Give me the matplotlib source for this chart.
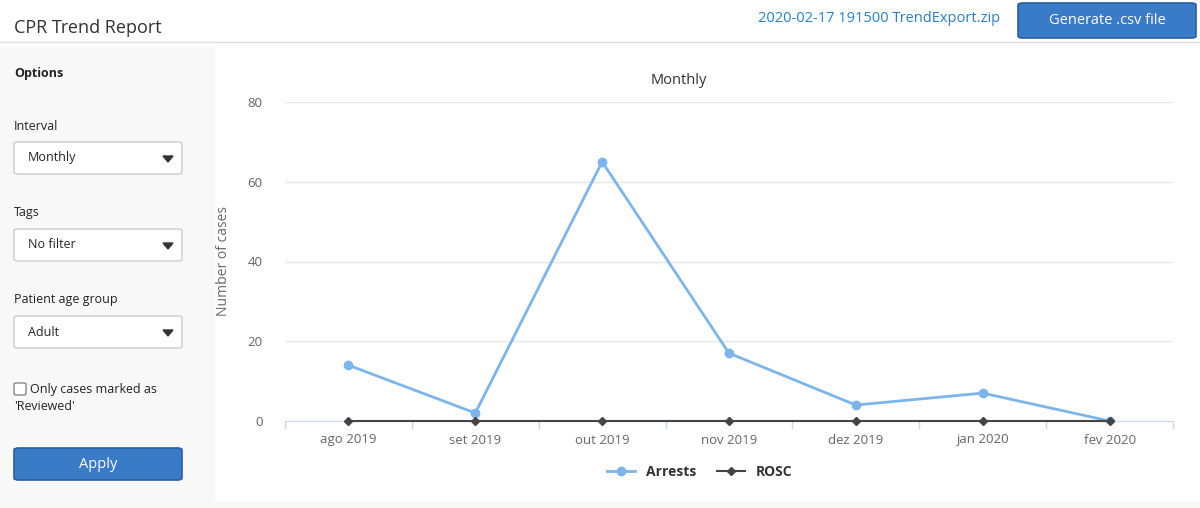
import matplotlib
matplotlib.use("Agg")
import matplotlib.pyplot as plt
from matplotlib.patches import FancyBboxPatch, Rectangle, Polygon
from matplotlib.lines import Line2D

categories = ["ago 2019", "set 2019", "out 2019", "nov 2019", "dez 2019", "jan 2020", "fev 2020"]
arrests = [14, 2, 65, 17, 4, 7, 0]
rosc = [0, 0, 0, 0, 0, 0, 0]
yticks = [0, 20, 40, 60, 80]

W, H = 1200, 508
plt.rcParams["font.family"] = "Open Sans"
fig = plt.figure(figsize=(12, 5.08), dpi=100, facecolor="#f8f8f8")
def fx(x): return x / W
def fy(y): return 1 - y / H

# backgrounds
fig.patches.append(Rectangle((0, fy(45)), 1, fy(0) - fy(45), transform=fig.transFigure, color="white", zorder=0))
fig.patches.append(Rectangle((fx(215), fy(500)), fx(1200 - 215), fy(45) - fy(500), transform=fig.transFigure, color="white", zorder=0))
fig.lines.append(Line2D([0, 1], [fy(42), fy(42)], transform=fig.transFigure, color="#dddddd", lw=1))

fig.text(fx(14), fy(28), "CPR Trend Report", fontsize=13, color="#333333", va="center")
fig.text(fx(1000), fy(19), "2020-02-17 191500 TrendExport.zip", fontsize=10.5, color="#2a7fc9", va="center", ha="right")

def button(x0, y0, x1, y1, label, fs=10.5):
    fig.patches.append(FancyBboxPatch((fx(x0), fy(y1)), fx(x1 - x0), fy(y0) - fy(y1),
                                      boxstyle="round,pad=0,rounding_size=0.004", transform=fig.transFigure,
                                      facecolor="#3a7bc8", edgecolor="#2a5f9e", lw=1.2, zorder=2))
    fig.text(fx((x0 + x1) / 2), fy((y0 + y1) / 2), label, color="white", fontsize=fs, ha="center", va="center", zorder=3)

button(1018, 3, 1196, 38, "Generate .csv file")
button(14, 448, 182, 480, "Apply")

fig.text(fx(14), fy(74), "Options", fontsize=9, fontweight="bold", color="#222222", va="center")

def dropdown(label, ly, val, by):
    fig.text(fx(14), fy(ly), label, fontsize=9, color="#222222", va="center")
    fig.patches.append(FancyBboxPatch((fx(14), fy(by + 32)), fx(168), fy(by) - fy(by + 32),
                                      boxstyle="round,pad=0,rounding_size=0.003", transform=fig.transFigure,
                                      facecolor="white", edgecolor="#cccccc", lw=1, zorder=2))
    fig.text(fx(28), fy(by + 16), val, fontsize=9, color="#222222", va="center", zorder=3)
    cy = by + 17
    fig.patches.append(Polygon([(fx(163), fy(cy - 3)), (fx(173), fy(cy - 3)), (fx(168), fy(cy + 3))],
                               transform=fig.transFigure, color="#333333", zorder=3))

dropdown("Interval", 126, "Monthly", 142)
dropdown("Tags", 213, "No filter", 229)
dropdown("Patient age group", 300, "Adult", 316)

fig.patches.append(FancyBboxPatch((fx(14), fy(395)), fx(12), fy(383) - fy(395),
                                  boxstyle="round,pad=0,rounding_size=0.002", transform=fig.transFigure,
                                  facecolor="white", edgecolor="#888888", lw=1, zorder=2))
fig.text(fx(30), fy(389), "Only cases marked as", fontsize=9, color="#222222", va="center")
fig.text(fx(14), fy(407), "'Reviewed'", fontsize=9, color="#222222", va="center")

# chart
ax = fig.add_axes([fx(285), fy(421), fx(1173 - 285), fy(102) - fy(421)])
ax.set_zorder(5)
ax.patch.set_alpha(0)
x = list(range(len(categories)))
ax.plot(x, arrests, color="#7cb5ec", lw=2, marker="o", ms=6, label="Arrests", zorder=3)
ax.plot(x, rosc, color="#434348", lw=1.5, marker="D", ms=4.5, label="ROSC", zorder=4, clip_on=False)
ax.set_xlim(-0.5, 6.5)
ax.set_ylim(0, 80)
ax.set_yticks(yticks)
ax.set_xticks(x)
ax.set_xticklabels(categories)
ax.grid(axis="y", color="#e6e6e6", lw=1)
ax.set_axisbelow(True)
for s in ["top", "right", "left"]:
    ax.spines[s].set_visible(False)
ax.spines["bottom"].set_color("#ccd6eb")
ax.tick_params(axis="y", length=0, labelsize=9.5, labelcolor="#666666", pad=16)
ax.tick_params(axis="x", length=0, labelsize=9.5, labelcolor="#666666", pad=9)
for xb in [i - 0.5 for i in range(8)]:
    ax.plot([xb, xb], [0, -1.8], color="#ccd6eb", lw=1, clip_on=False)
ax.set_ylabel("Number of cases", fontsize=10, color="#666666", labelpad=12)
fig.text(fx(679), fy(81), "Monthly", fontsize=10.5, color="#333333", ha="center", va="center")
leg = fig.legend(loc="center", bbox_to_anchor=(fx(700), fy(472)), ncol=2, frameon=False,
                 prop={"size": 10, "weight": "bold"}, handlelength=2, columnspacing=1.5)
for t in leg.get_texts():
    t.set_color("#333333")

fig.savefig("out.png", dpi=100, facecolor=fig.get_facecolor())
